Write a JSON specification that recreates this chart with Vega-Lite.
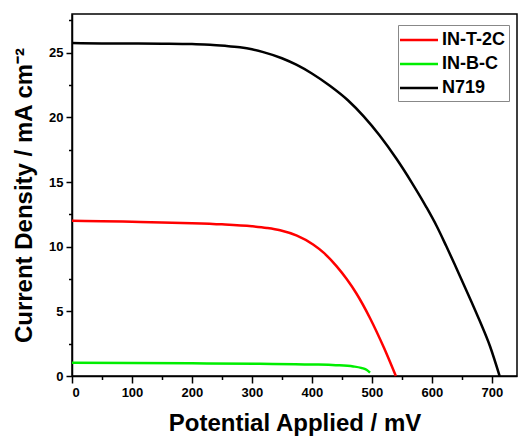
{
  "$schema": "https://vega.github.io/schema/vega-lite/v6.json",
  "width": 445,
  "height": 362,
  "autosize": {"type": "none"},
  "padding": {"left": 72, "top": 14, "right": 2, "bottom": 62},
  "config": {
    "font": "Liberation Sans",
    "view": {"stroke": "#000", "strokeWidth": 1.5},
    "axis": {"grid": false, "domainColor": "#000", "tickColor": "#000", "labelColor": "#000", "titleColor": "#000", "labelFont": "Liberation Sans", "titleFont": "Liberation Sans", "labelFontWeight": "bold", "titleFontWeight": "bold", "labelFontSize": 13, "titleFontSize": 24, "domainWidth": 1.5, "tickWidth": 1.5}
  },
  "data": {"values": [
    {"s": "N719", "v": 0, "j": 25.75},
    {"s": "N719", "v": 50, "j": 25.72},
    {"s": "N719", "v": 100, "j": 25.72},
    {"s": "N719", "v": 150, "j": 25.7},
    {"s": "N719", "v": 200, "j": 25.67},
    {"s": "N719", "v": 230, "j": 25.63},
    {"s": "N719", "v": 255, "j": 25.54},
    {"s": "N719", "v": 280, "j": 25.42},
    {"s": "N719", "v": 300, "j": 25.27},
    {"s": "N719", "v": 319, "j": 25.05},
    {"s": "N719", "v": 350, "j": 24.58},
    {"s": "N719", "v": 374, "j": 24.08},
    {"s": "N719", "v": 400, "j": 23.4},
    {"s": "N719", "v": 430, "j": 22.45},
    {"s": "N719", "v": 460, "j": 21.33},
    {"s": "N719", "v": 486, "j": 20.1},
    {"s": "N719", "v": 513, "j": 18.6},
    {"s": "N719", "v": 541, "j": 16.8},
    {"s": "N719", "v": 566, "j": 15.0},
    {"s": "N719", "v": 591, "j": 13.05},
    {"s": "N719", "v": 608, "j": 11.6},
    {"s": "N719", "v": 624, "j": 10.05},
    {"s": "N719", "v": 638, "j": 8.65},
    {"s": "N719", "v": 652, "j": 7.2},
    {"s": "N719", "v": 666, "j": 5.75},
    {"s": "N719", "v": 680, "j": 4.25},
    {"s": "N719", "v": 697, "j": 2.3},
    {"s": "N719", "v": 713, "j": 0},
    {"s": "IN-T-2C", "v": 0, "j": 12.0},
    {"s": "IN-T-2C", "v": 50, "j": 11.97},
    {"s": "IN-T-2C", "v": 100, "j": 11.93},
    {"s": "IN-T-2C", "v": 150, "j": 11.88},
    {"s": "IN-T-2C", "v": 200, "j": 11.82},
    {"s": "IN-T-2C", "v": 250, "j": 11.73},
    {"s": "IN-T-2C", "v": 300, "j": 11.58},
    {"s": "IN-T-2C", "v": 325, "j": 11.45},
    {"s": "IN-T-2C", "v": 347, "j": 11.27},
    {"s": "IN-T-2C", "v": 375, "j": 10.85},
    {"s": "IN-T-2C", "v": 402, "j": 10.17},
    {"s": "IN-T-2C", "v": 420, "j": 9.52},
    {"s": "IN-T-2C", "v": 441, "j": 8.5},
    {"s": "IN-T-2C", "v": 458, "j": 7.5},
    {"s": "IN-T-2C", "v": 474, "j": 6.4},
    {"s": "IN-T-2C", "v": 497, "j": 4.47},
    {"s": "IN-T-2C", "v": 520, "j": 2.2},
    {"s": "IN-T-2C", "v": 540, "j": 0},
    {"s": "IN-B-C", "v": 0, "j": 1.03},
    {"s": "IN-B-C", "v": 100, "j": 1.01},
    {"s": "IN-B-C", "v": 200, "j": 0.98},
    {"s": "IN-B-C", "v": 313, "j": 0.94},
    {"s": "IN-B-C", "v": 400, "j": 0.89},
    {"s": "IN-B-C", "v": 440, "j": 0.84},
    {"s": "IN-B-C", "v": 469, "j": 0.74},
    {"s": "IN-B-C", "v": 482, "j": 0.63},
    {"s": "IN-B-C", "v": 491, "j": 0.48},
    {"s": "IN-B-C", "v": 497, "j": 0.26}
  ]},
  "layer": [
    {
      "mark": {"type": "line", "strokeWidth": 2.5, "interpolate": "monotone"},
      "encoding": {
        "x": {"field": "v", "type": "quantitative", "scale": {"domain": [0, 742], "nice": false, "zero": false},
          "axis": {"values": [0, 100, 200, 300, 400, 500, 600, 700], "tickSize": 7, "labelPadding": 3, "title": "Potential Applied / mV", "titlePadding": 12}},
        "y": {"field": "j", "type": "quantitative", "scale": {"domain": [0, 28], "nice": false},
          "axis": {"values": [0, 5, 10, 15, 20, 25], "tickSize": 6, "labelPadding": 3, "title": "Current Density / mA cm⁻²", "titlePadding": 12}},
        "color": {"field": "s", "type": "nominal",
          "scale": {"domain": ["IN-T-2C", "IN-B-C", "N719"], "range": ["#ff0000", "#00ee00", "#000000"]},
          "legend": {"title": null, "orient": "none", "legendX": 326, "legendY": 11, "symbolType": "M-2,0H2", "symbolSize": 361, "symbolStrokeWidth": 2.5, "symbolOffset": 6, "labelFontSize": 18, "labelFontWeight": "bold", "labelFont": "Liberation Sans", "labelColor": "#000", "strokeColor": "#888", "padding": 4, "rowPadding": 4, "labelOffset": 12, "fillColor": "#fff"}},
        "detail": {"field": "s"}
      }
    },
    {
      "mark": {"type": "line", "opacity": 0},
      "encoding": {
        "x": {"field": "v", "type": "quantitative", "axis": {"orient": "bottom", "values": [50, 150, 250, 350, 450, 550, 650], "labels": false, "tickSize": 3.5, "title": null, "domain": false}},
        "y": {"field": "j", "type": "quantitative", "axis": {"orient": "left", "values": [2.5, 7.5, 12.5, 17.5, 22.5, 27.5], "labels": false, "tickSize": 3.5, "title": null, "domain": false}},
        "detail": {"field": "s"}
      }
    }
  ],
  "resolve": {"axis": {"x": "independent", "y": "independent"}}
}
